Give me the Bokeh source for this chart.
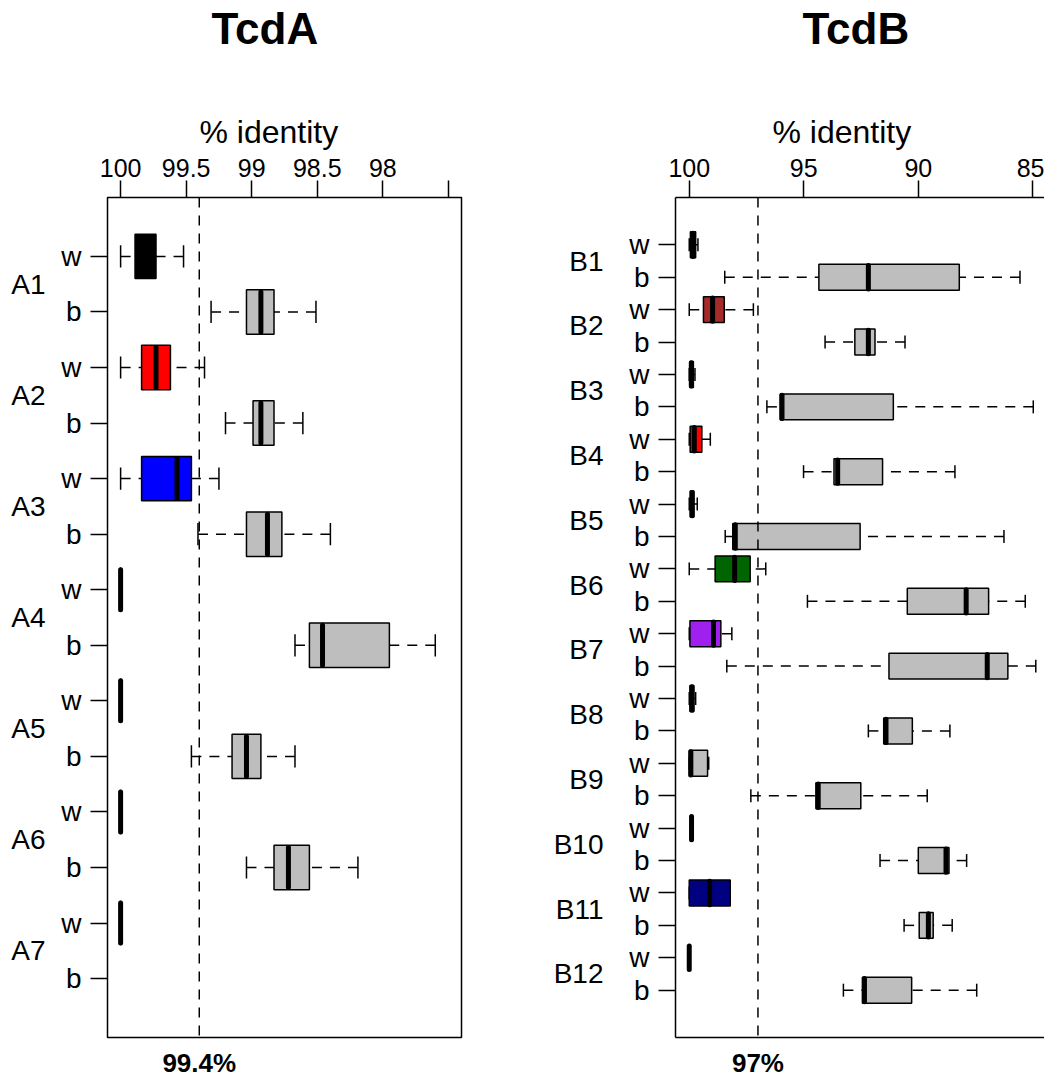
from bokeh.plotting import figure
from bokeh.models import (ColumnDataSource, FactorRange, Range1d, Span, Title,
                          FixedTicker, LinearAxis, CategoricalAxis)
from bokeh.transform import dodge
from bokeh.layouts import row
from bokeh.embed import file_html
from bokeh.resources import INLINE

FONT = "Liberation Sans"
BOX_GREY = "#BEBEBE"

# ---------------- TcdA ----------------
A_groups = ["A1", "A2", "A3", "A4", "A5", "A6", "A7"]
A_group = ["A1", "A1", "A2", "A2", "A3", "A3", "A4", "A4", "A5", "A5", "A6", "A6", "A7"]
A_sub = ["w", "b", "w", "b", "w", "b", "w", "b", "w", "b", "w", "b", "w"]
A_min = [99.52, 98.51, 99.36, 98.61, 99.25, 98.40, 100.0, 97.60, 100.0, 98.67, 100.0, 98.19, 100.0]
A_q1 = [99.73, 98.83, 99.62, 98.83, 99.46, 98.77, 100.0, 97.95, 100.0, 98.93, 100.0, 98.56, 100.0]
A_med = [99.80, 98.93, 99.73, 98.93, 99.57, 98.88, 100.0, 98.46, 100.0, 99.04, 100.0, 98.72, 100.0]
A_q3 = [99.89, 99.04, 99.84, 98.99, 99.84, 99.04, 100.0, 98.56, 100.0, 99.15, 100.0, 98.83, 100.0]
A_max = [100.0, 99.31, 100.0, 99.20, 100.0, 99.41, 100.0, 98.67, 100.0, 99.46, 100.0, 99.04, 100.0]
A_ticks = [100, 99.5, 99, 98.5, 98, 97.5]
A_tick_labels = ["100", "99.5", "99", "98.5", "98", ""]
A_threshold = 99.4
A_threshold_label = "99.4%"
A_w_colors = {"A1": "black", "A2": "red", "A3": "blue", "A4": "black",
              "A5": "black", "A6": "black", "A7": "black"}

# ---------------- TcdB ----------------
B_groups = ["B1", "B2", "B3", "B4", "B5", "B6", "B7", "B8", "B9", "B10", "B11", "B12"]
B_group = [g for g in B_groups for _ in ("w", "b")]
B_sub = ["w", "b"] * 12
B_min = [99.62, 85.56, 97.20, 90.58, 99.75, 84.98, 99.08, 88.40, 99.65, 86.26, 96.66, 85.33,
         98.14, 84.87, 99.72, 88.62, 99.15, 89.61, 99.90, 87.89, 98.21, 88.52, 100.0, 87.45]
B_q1 = [99.72, 88.21, 98.47, 91.89, 99.82, 91.09, 99.45, 91.56, 99.80, 92.54, 97.34, 86.93,
        98.62, 86.09, 99.80, 90.26, 99.20, 92.51, 99.90, 88.66, 98.21, 89.35, 100.0, 90.29]
B_med = [99.84, 92.18, 98.98, 92.18, 99.91, 95.95, 99.78, 93.52, 99.87, 97.99, 98.02, 87.91,
         98.94, 86.99, 99.88, 91.41, 99.93, 94.37, 99.90, 88.79, 99.11, 89.56, 100.0, 92.35]
B_q3 = [99.95, 94.34, 99.38, 92.77, 99.97, 96.03, 99.96, 93.68, 99.96, 98.10, 98.87, 90.48,
        99.97, 91.28, 99.97, 91.51, 100.0, 94.47, 99.90, 90.00, 100.0, 89.96, 100.0, 92.44]
B_max = [100.0, 98.45, 100.0, 94.07, 100.0, 96.61, 100.0, 95.01, 100.0, 98.43, 100.0, 94.84,
         100.0, 98.36, 100.0, 92.18, 100.0, 97.31, 99.90, 91.67, 100.0, 90.62, 100.0, 93.27]
B_ticks = [100, 95, 90, 85]
B_tick_labels = ["100", "95", "90", "85"]
B_threshold = 97
B_threshold_label = "97%"
B_w_colors = {"B1": "black", "B2": "#A52A2A", "B3": "black", "B4": "red", "B5": "black",
              "B6": "#006400", "B7": "#A020F0", "B8": "black", "B9": BOX_GREY,
              "B10": "black", "B11": "#000080", "B12": "black"}


def make_panel(name, groups, group, sub, vmin, q1, med, q3, vmax, w_colors,
               x_start, x_end, ticks, tick_labels, threshold, threshold_label,
               width, border_left, border_right, title_dx, lab_dx, grp_standoff, outline):
    factors = [(g, s) for g in groups for s in ("w", "b")][::-1]
    yr = FactorRange(*factors, factor_padding=0, group_padding=0,
                     range_padding=0.08, range_padding_units="percent")
    p = figure(width=width, height=1080, x_range=Range1d(x_start, x_end), y_range=yr,
               x_axis_location="above", toolbar_location=None, output_backend="svg",
               min_border_left=border_left, min_border_right=border_right,
               min_border_top=197, min_border_bottom=41)
    p.xgrid.visible = False
    p.ygrid.visible = False

    fills = [w_colors[g] if s == "w" else BOX_GREY for g, s in zip(group, sub)]
    src = ColumnDataSource(dict(y=list(zip(group, sub)), vmin=vmin, q1=q1, med=med,
                                q3=q3, vmax=vmax, fill=fills))
    lo = dodge("y", -0.2, range=yr)
    hi = dodge("y", 0.2, range=yr)
    mlo = dodge("y", -0.36, range=yr)
    mhi = dodge("y", 0.36, range=yr)

    dash = "10 8"
    p.segment(x0="vmax", y0="y", x1="q3", y1="y", source=src, line_color="black",
              line_width=1.5, line_dash=dash)
    p.segment(x0="vmin", y0="y", x1="q1", y1="y", source=src, line_color="black",
              line_width=1.5, line_dash=dash)
    p.segment(x0="vmax", y0=lo, x1="vmax", y1=hi, source=src, line_color="black", line_width=1.5)
    p.segment(x0="vmin", y0=lo, x1="vmin", y1=hi, source=src, line_color="black", line_width=1.5)
    p.hbar(y="y", left="q1", right="q3", height=0.8, source=src, fill_color="fill",
           line_color="black", line_width=1.5)
    p.segment(x0="med", y0=mlo, x1="med", y1=mhi, source=src, line_color="black",
              line_width=5, line_cap="round")

    p.add_layout(Span(location=threshold, dimension="height", line_color="black",
                      line_width=1.5, line_dash=dash))

    # top axis: % identity ticks
    xa = p.xaxis[0]
    xa.ticker = FixedTicker(ticks=ticks)
    xa.major_label_overrides = dict(zip(ticks, tick_labels))
    xa.major_tick_out = 17
    xa.major_tick_in = 0
    xa.minor_tick_out = 0
    xa.minor_tick_in = 0
    xa.major_tick_line_width = 1.5
    xa.major_tick_line_color = "black"
    xa.major_label_text_font = FONT
    xa.major_label_text_font_size = "25px"
    xa.major_label_text_color = "black"
    xa.major_label_standoff = 4

    # left axis: w / b
    ya = p.yaxis[0]
    ya.major_tick_out = 17
    ya.major_tick_in = 0
    ya.major_tick_line_width = 1.5
    ya.major_tick_line_color = "black"
    ya.major_label_text_font = FONT
    ya.major_label_text_font_size = "28px"
    ya.major_label_text_color = "black"
    ya.major_label_standoff = 9
    ya.group_text_font_size = "1px"
    ya.group_text_color = None
    ya.separator_line_color = None

    # group names (A1, B1, ...) on a second left axis
    p.extra_y_ranges = {"grp": FactorRange(*groups[::-1], factor_padding=0,
                                           range_padding=0.08, range_padding_units="percent")}
    ga = CategoricalAxis(y_range_name="grp", major_tick_out=0, major_tick_in=0,
                         axis_line_color=None, major_label_standoff=grp_standoff,
                         major_label_text_font=FONT, major_label_text_font_size="28px",
                         major_label_text_color="black")
    p.add_layout(ga, "left")

    # bottom threshold label
    ba = LinearAxis(ticker=FixedTicker(ticks=[threshold]),
                    major_label_overrides={threshold: threshold_label},
                    major_tick_out=0, major_tick_in=0, minor_tick_out=0, minor_tick_in=0,
                    major_label_standoff=10, major_label_text_font=FONT,
                    major_label_text_font_size="26px", major_label_text_font_style="bold",
                    major_label_text_color="black")
    p.add_layout(ba, "below")

    if outline:
        p.outline_line_color = "black"
        p.outline_line_width = 1.5
        xa.axis_line_color = None
        ya.axis_line_color = None
        ba.axis_line_color = None
    else:
        p.outline_line_color = None
        for ax in (xa, ya, ba):
            ax.axis_line_color = "black"
            ax.axis_line_width = 1.5

    # "% identity" label, a spacer, and the panel title, stacked above the tick labels
    p.add_layout(Title(text="% identity", align="left", offset=lab_dx, standoff=12,
                       vertical_align="bottom", text_font=FONT, text_font_size="32px",
                       text_font_style="normal", text_color="black"), "above")
    p.add_layout(Title(text=" ", standoff=50, text_font=FONT, text_font_size="1px",
                       text_color="white"), "above")

    p.title.text = name
    p.title.align = "left"
    p.title.offset = title_dx
    p.title.standoff = 0
    p.title.vertical_align = "bottom"
    p.title.text_font = FONT
    p.title.text_font_size = "44px"
    p.title.text_font_style = "bold"
    p.title.text_color = "black"
    return p


pA = make_panel("TcdA", A_groups, A_group, A_sub, A_min, A_q1, A_med, A_q3, A_max, A_w_colors,
                100.1, 97.4, A_ticks, A_tick_labels, A_threshold, A_threshold_label,
                width=540, border_left=107, border_right=79,
                title_dx=104, lab_dx=92, grp_standoff=13, outline=True)

pB = make_panel("TcdB", B_groups, B_group, B_sub, B_min, B_q1, B_med, B_q3, B_max, B_w_colors,
                100.6, 84.49, B_ticks, B_tick_labels, B_threshold, B_threshold_label,
                width=504, border_left=135, border_right=0,
                title_dx=127, lab_dx=97, grp_standoff=23, outline=False)

layout = row(pA, pB)
open("out.html", "w").write(file_html(layout, INLINE))
